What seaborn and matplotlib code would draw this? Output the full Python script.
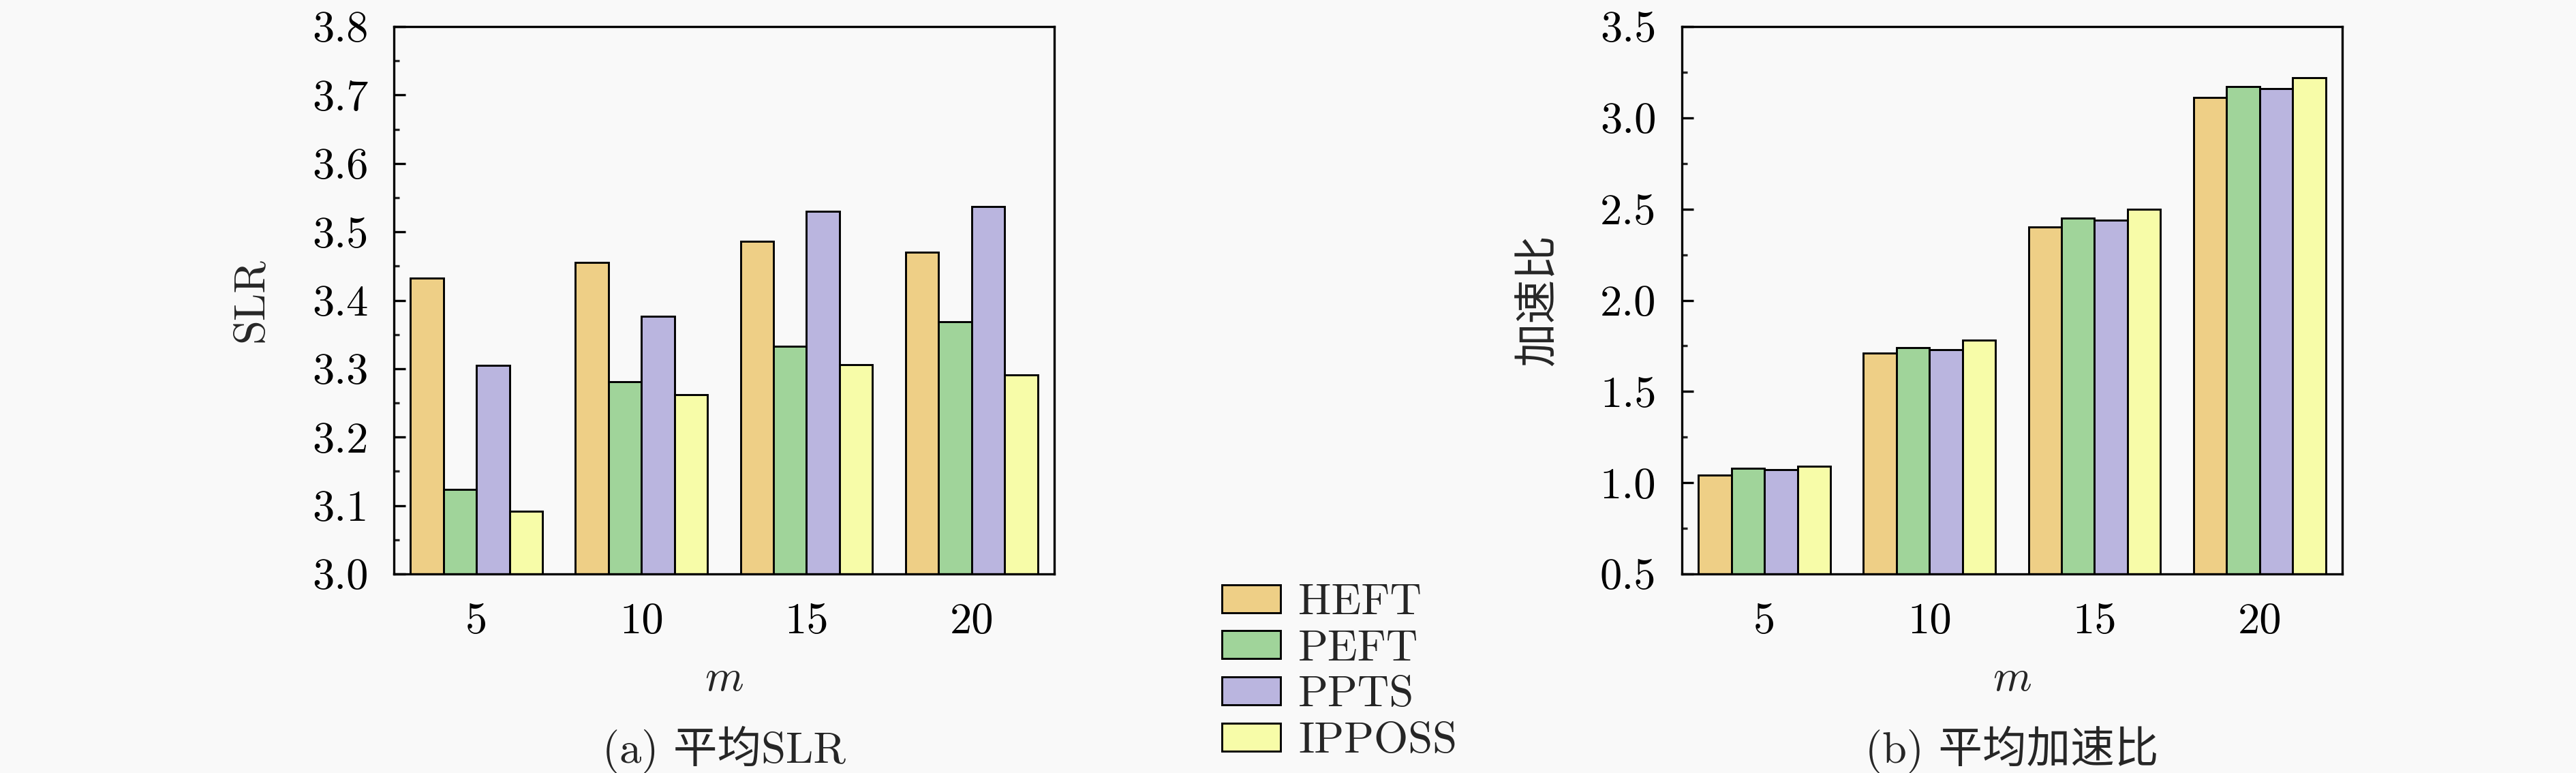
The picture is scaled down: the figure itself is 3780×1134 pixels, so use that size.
import pandas as pd
import matplotlib
matplotlib.use('Agg')
import matplotlib.pyplot as plt
import seaborn as sns
from matplotlib.ticker import MultipleLocator, FormatStrFormatter

# --- data ---
m_values = ['5', '10', '15', '20']
algorithms = ['HEFT', 'PEFT', 'PPTS', 'IPPOSS']
colors = ['#EECF86', '#A0D49A', '#BAB5DF', '#F7FCA8']

slr_heft = [3.432, 3.455, 3.486, 3.470]
slr_peft = [3.124, 3.281, 3.333, 3.369]
slr_ppts = [3.305, 3.377, 3.530, 3.537]
slr_ipposs = [3.092, 3.262, 3.306, 3.291]

speed_heft = [1.04, 1.71, 2.40, 3.11]
speed_peft = [1.08, 1.74, 2.45, 3.17]
speed_ppts = [1.07, 1.73, 2.44, 3.16]
speed_ipposs = [1.09, 1.78, 2.50, 3.22]


def long_table(series):
    rows = []
    for alg, vals in zip(algorithms, series):
        for m, v in zip(m_values, vals):
            rows.append({'m': m, 'alg': alg, 'value': v})
    return pd.DataFrame(rows)


df_slr = long_table([slr_heft, slr_peft, slr_ppts, slr_ipposs])
df_speed = long_table([speed_heft, speed_peft, speed_ppts, speed_ipposs])

sns.set_theme(style='ticks')
plt.rcParams['font.family'] = ['cmr10', 'Noto Sans CJK SC', 'DejaVu Sans']
plt.rcParams['mathtext.fontset'] = 'cm'
plt.rcParams['axes.unicode_minus'] = False
plt.rcParams['font.size'] = 15.5

bg = '#f9f9f9'
fig = plt.figure(figsize=(12.6, 3.78), dpi=300, facecolor=bg)
ax1 = fig.add_axes([0.1529, 0.2575, 0.2563, 0.7081])
ax2 = fig.add_axes([0.6529, 0.2575, 0.2563, 0.7081])

panels = [
    (ax1, df_slr, 'SLR', (3.0, 3.8), 0.1, 0.05, '(a) 平均SLR'),
    (ax2, df_speed, '加速比', (0.5, 3.5), 0.5, 0.25, '(b) 平均加速比'),
]

for ax, df, ylab, ylim, major, minor, caption in panels:
    ax.set_facecolor(bg)
    sns.barplot(data=df, x='m', y='value', hue='alg', hue_order=algorithms,
                palette=colors, edgecolor='black', linewidth=0.7,
                saturation=1, ax=ax)
    ax.get_legend().remove()
    ax.set_ylim(*ylim)
    ax.set_xlim(-0.5, 3.5)
    ax.yaxis.set_major_locator(MultipleLocator(major))
    ax.yaxis.set_minor_locator(MultipleLocator(minor))
    ax.yaxis.set_major_formatter(FormatStrFormatter('%.1f'))
    ax.tick_params(axis='y', which='major', direction='in', length=4,
                   width=0.8, pad=9, labelsize=15.5, colors='black')
    ax.tick_params(axis='y', which='minor', direction='in', length=2,
                   width=0.8)
    ax.tick_params(axis='x', length=0, pad=10, labelsize=15.5, colors='black')
    for sp in ax.spines.values():
        sp.set_visible(True)
        sp.set_linewidth(0.8)
        sp.set_color('black')
    ax.set_ylabel(ylab, fontsize=15.5)
    ax.yaxis.set_label_coords(-0.186, 0.5)
    ax.set_xlabel('$m$', fontsize=15.5)
    ax.xaxis.label.set_va('center')
    ax.xaxis.set_label_coords(0.5, -0.193)
    ax.text(0.5, -0.321, caption, transform=ax.transAxes, ha='center',
            va='center', fontsize=15.5)

handles, labels = ax1.get_legend_handles_labels()
fig.legend(handles, labels, loc='center', bbox_to_anchor=(0.52, 0.13),
           frameon=False, fontsize=15.5, handlelength=1.33,
           handleheight=0.6, handletextpad=0.4, labelspacing=0.15)

fig.savefig('out.png', dpi=300, facecolor=bg)
